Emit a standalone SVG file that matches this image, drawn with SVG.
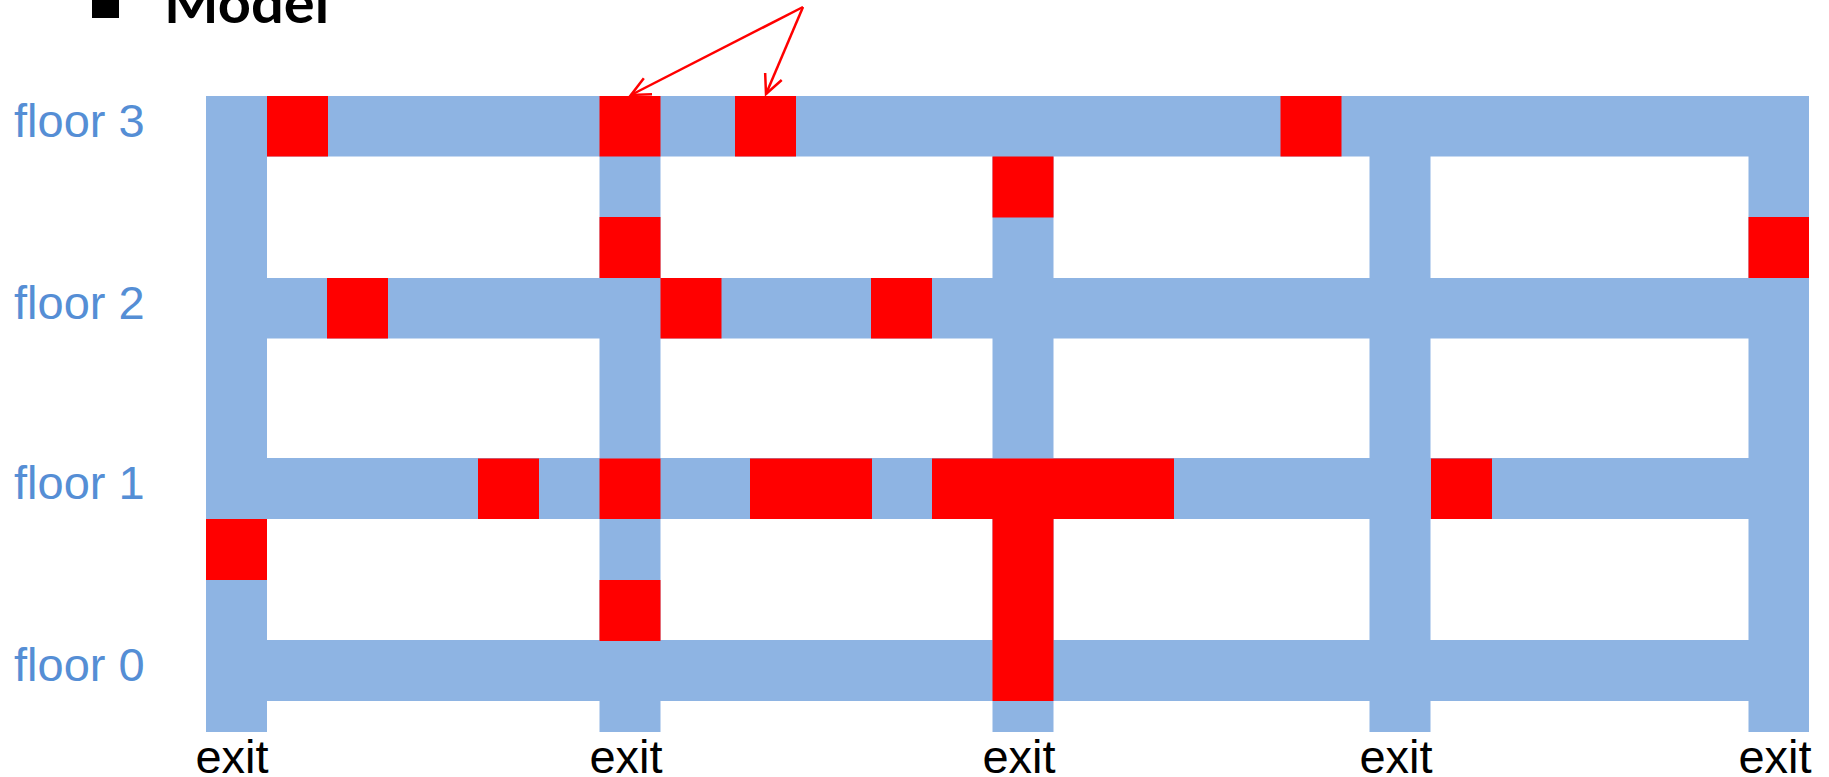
<svg xmlns="http://www.w3.org/2000/svg" width="1829" height="777" viewBox="0 0 1829 777">
  <style>
    .hall { fill: #8EB4E3; }
    .fire { fill: #FF0000; }
    .floor { font-family: "Liberation Sans", Arial, sans-serif; font-size: 47px; fill: #558ED5; }
    .exit { font-family: "Liberation Sans", Arial, sans-serif; font-size: 47px; fill: #000000; text-anchor: middle; }
    .title { font-family: Lato, "Liberation Sans", sans-serif; font-weight: bold; font-size: 56px; fill: #000000; }
    .arrow { stroke: #FF0000; stroke-width: 2.5; fill: none; marker-end: url(#openArrow); }
  </style>
  <defs>
    <marker id="openArrow" markerUnits="userSpaceOnUse" markerWidth="24" markerHeight="24" viewBox="0 0 24 24" refX="21" refY="12" orient="auto">
      <path d="M2,3 L21,12 L2,21" fill="none" stroke="#FF0000" stroke-width="2.5"/>
    </marker>
  </defs>
  <rect width="1829" height="777" fill="#FFFFFF"/>

  <g id="title">
    <rect x="92" y="-9" width="27" height="27" fill="#000000"/>
    <text class="title" x="164" y="23" textLength="165" lengthAdjust="spacingAndGlyphs">Model</text>
  </g>

  <g id="corridors">
    <rect id="floor3-hall" class="hall" x="206" y="96" width="1603" height="60.5"/>
    <rect id="floor2-hall" class="hall" x="206" y="278" width="1603" height="60.5"/>
    <rect id="floor1-hall" class="hall" x="206" y="458" width="1603" height="61"/>
    <rect id="floor0-hall" class="hall" x="206" y="640" width="1603" height="61"/>
    <rect id="stair0" class="hall" x="206" y="96" width="61" height="636"/>
    <rect id="stair1" class="hall" x="599.5" y="96" width="61" height="636"/>
    <rect id="stair2" class="hall" x="992.5" y="156" width="61" height="576"/>
    <rect id="stair3" class="hall" x="1369.5" y="96" width="61" height="636"/>
    <rect id="stair4" class="hall" x="1748.5" y="96" width="60.5" height="636"/>
  </g>

  <g id="blocked">
    <rect class="fire" x="267" y="96" width="61" height="60.5"/>
    <rect class="fire" x="599.5" y="96" width="61" height="60.5"/>
    <rect class="fire" x="735" y="96" width="61" height="60.5"/>
    <rect class="fire" x="1280.5" y="96" width="61" height="60.5"/>
    <rect class="fire" x="992.5" y="156.5" width="61" height="61"/>
    <rect class="fire" x="599.5" y="217" width="61" height="61"/>
    <rect class="fire" x="1748.5" y="217" width="60.5" height="61"/>
    <rect class="fire" x="327" y="278" width="61" height="60.5"/>
    <rect class="fire" x="660.5" y="278" width="61" height="60.5"/>
    <rect class="fire" x="871" y="278" width="61" height="60.5"/>
    <rect class="fire" x="478" y="458.5" width="61" height="60.5"/>
    <rect class="fire" x="599.5" y="458.5" width="61" height="60.5"/>
    <rect class="fire" x="750" y="458.5" width="122" height="60.5"/>
    <rect class="fire" x="932" y="458.5" width="242" height="60.5"/>
    <rect class="fire" x="992.5" y="519" width="61" height="182"/>
    <rect class="fire" x="1431" y="458.5" width="61" height="60.5"/>
    <rect class="fire" x="206" y="519" width="61" height="61"/>
    <rect class="fire" x="599.5" y="580" width="61" height="61"/>
  </g>

  <g id="floor-labels">
    <text class="floor" x="14" y="137">floor 3</text>
    <text class="floor" x="14" y="318.5">floor 2</text>
    <text class="floor" x="14" y="499">floor 1</text>
    <text class="floor" x="14" y="681">floor 0</text>
  </g>

  <g id="exit-labels">
    <text class="exit" x="232" y="773">exit</text>
    <text class="exit" x="626" y="773">exit</text>
    <text class="exit" x="1019" y="773">exit</text>
    <text class="exit" x="1396" y="773">exit</text>
    <text class="exit" x="1775" y="773">exit</text>
  </g>

  <g id="connectors">
    <line class="arrow" x1="803" y1="7" x2="631" y2="95"/>
    <line class="arrow" x1="803" y1="7" x2="766" y2="94"/>
  </g>
</svg>
